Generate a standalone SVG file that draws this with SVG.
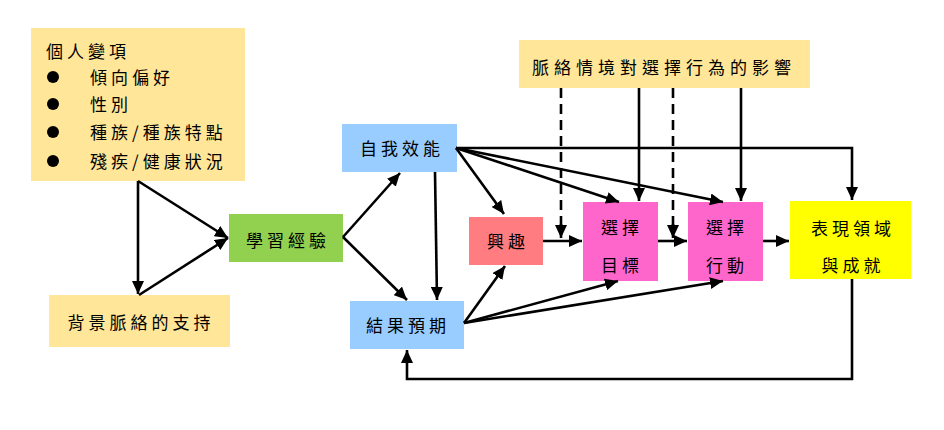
<svg xmlns="http://www.w3.org/2000/svg" width="944" height="430" viewBox="0 0 944 430">
<style>
.t{font-family:"Noto Sans CJK TC","Noto Sans CJK SC",sans-serif;font-size:17px;fill:#000;letter-spacing:4px}
.ln{stroke:#000;stroke-width:2.6;fill:none}
.ar{marker-end:url(#ah)}
.ds{stroke-dasharray:10 6}
</style>
<defs>
<marker id="ah" markerUnits="userSpaceOnUse" markerWidth="14" markerHeight="12" refX="13" refY="6" orient="auto">
<path d="M0,0 L13,6 L0,12 Z" fill="#000"/>
</marker>
</defs>
<rect width="944" height="430" fill="#fff"/>
<g id="n-personal">
<rect x="31" y="28" width="214" height="153" fill="#FFE699"/>
<text class="t" x="46" y="57.5">個人變項</text>
<circle cx="53" cy="77" r="6"/>
<circle cx="53" cy="104" r="6"/>
<circle cx="53" cy="132" r="6"/>
<circle cx="53" cy="161" r="6"/>
<text class="t" x="90" y="83.5">傾向偏好</text>
<text class="t" x="90" y="110.5">性別</text>
<text class="t" x="90" y="138.5">種族/種族特點</text>
<text class="t" x="90" y="167.5">殘疾/健康狀況</text>
</g>
<g id="n-context">
<rect x="49" y="295" width="181" height="52" fill="#FFE699"/>
<text class="t" x="141" y="328.5" text-anchor="middle">背景脈絡的支持</text>
</g>
<g id="n-learning">
<rect x="229" y="214" width="114" height="48" fill="#92D050"/>
<text class="t" x="288" y="246.5" text-anchor="middle">學習經驗</text>
</g>
<g id="n-selfeff">
<rect x="342" y="124" width="115" height="48" fill="#99CCFF"/>
<text class="t" x="402" y="154.5" text-anchor="middle">自我效能</text>
</g>
<g id="n-outcome">
<rect x="350" y="301" width="114" height="48" fill="#99CCFF"/>
<text class="t" x="408" y="331.5" text-anchor="middle">結果預期</text>
</g>
<g id="n-interest">
<rect x="469" y="217" width="74" height="48" fill="#FF7C80"/>
<text class="t" x="508" y="247.5" text-anchor="middle">興趣</text>
</g>
<g id="n-goal">
<rect x="583" y="202" width="75" height="79" fill="#FF66CC"/>
<text class="t" x="622" y="233.5" text-anchor="middle">選擇</text>
<text class="t" x="622" y="271.5" text-anchor="middle">目標</text>
</g>
<g id="n-action">
<rect x="688" y="202" width="75" height="79" fill="#FF66CC"/>
<text class="t" x="727" y="233.5" text-anchor="middle">選擇</text>
<text class="t" x="727" y="271.5" text-anchor="middle">行動</text>
</g>
<g id="n-perf">
<rect x="790" y="201" width="121" height="78" fill="#FFFF00"/>
<text class="t" x="853" y="234.5" text-anchor="middle">表現領域</text>
<text class="t" x="853" y="271.5" text-anchor="middle">與成就</text>
</g>
<g id="n-influence">
<rect x="519" y="40" width="291" height="48" fill="#FFE699"/>
<text class="t" x="664" y="73.5" text-anchor="middle" style="letter-spacing:5px">脈絡情境對選擇行為的影響</text>
</g>
<g id="connectors">
<line class="ln ar" x1="138" y1="181" x2="138" y2="294"/>
<line class="ln ar" x1="138" y1="181" x2="228" y2="238"/>
<line class="ln ar" x1="139" y1="295" x2="228" y2="238"/>
<line class="ln ar" x1="343" y1="237" x2="400" y2="173"/>
<line class="ln ar" x1="343" y1="237" x2="407" y2="300"/>
<line class="ln ar" x1="435" y1="172" x2="437" y2="300"/>
<polyline class="ln ar" points="456,148 852,148 852,200"/>
<line class="ln ar" x1="456" y1="148" x2="504" y2="214"/>
<line class="ln ar" x1="456" y1="148" x2="619" y2="202"/>
<line class="ln ar" x1="456" y1="148" x2="723" y2="202"/>
<line class="ln ar" x1="464" y1="323" x2="505" y2="266"/>
<line class="ln ar" x1="464" y1="323" x2="618" y2="281"/>
<line class="ln ar" x1="464" y1="323" x2="723" y2="281"/>
<line class="ln ar" x1="543" y1="241" x2="582" y2="241"/>
<line class="ln ar" x1="658" y1="241" x2="687" y2="241"/>
<line class="ln ar" x1="763" y1="241" x2="789" y2="241"/>
<line class="ln ds" x1="561" y1="88" x2="561" y2="226"/>
<line class="ln ar" x1="561" y1="224" x2="561" y2="238"/>
<line class="ln ds" x1="673" y1="88" x2="673" y2="226"/>
<line class="ln ar" x1="673" y1="224" x2="673" y2="238"/>
<line class="ln ar" x1="639" y1="88" x2="639" y2="201"/>
<line class="ln ar" x1="741" y1="88" x2="741" y2="201"/>
<polyline class="ln ar" points="852,279 852,379 407,379 407,350"/>
</g>
</svg>
